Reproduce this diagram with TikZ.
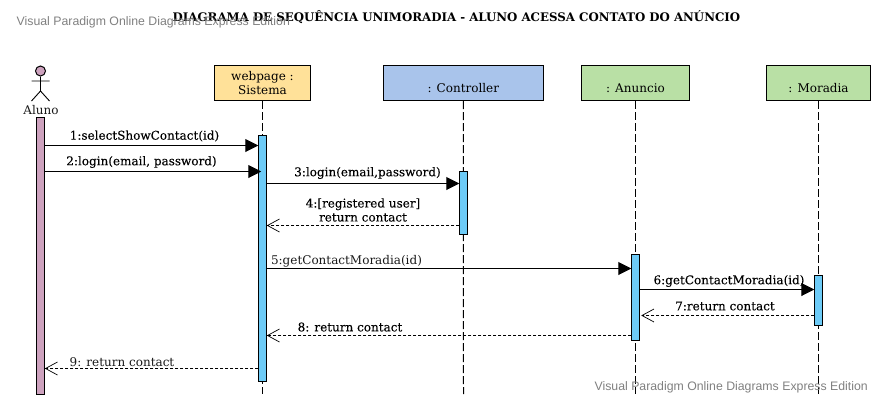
\documentclass[tikz,border=0pt]{standalone}
\usepackage{fontspec}
\setmainfont{DejaVu Serif}
\newfontfamily\wmfont{Liberation Sans}
\newfontfamily\heavyfont[FakeBold=0.12]{DejaVu Serif}
\usetikzlibrary{arrows.meta}
\definecolor{cyel}{HTML}{FFE199}
\definecolor{cblu}{HTML}{A9C4EB}
\definecolor{cgrn}{HTML}{B9E0A5}
\definecolor{cbar}{HTML}{6DCBF7}
\definecolor{cact}{HTML}{CDA2BE}
\newcommand{\lowered}[1]{\rule{0pt}{19pt}#1}
\tikzset{
  x=1pt,y=-1pt,
  lab/.style={font=\fontsize{12}{14}\selectfont,inner sep=0pt,align=center,text=black!90},
  heavylab/.style={lab,font=\heavyfont\fontsize{12}{14}\selectfont,text=black},
  objbox/.style={draw=black,line width=1pt,minimum height=35pt,inner sep=0pt,align=center,font=\fontsize{12}{13.5}\selectfont},
  actbar/.style={draw=black,line width=1pt,minimum width=7.5pt,inner sep=0pt,fill=cbar},
  life/.style={line width=1pt,dash pattern=on 8pt off 3pt},
  call/.style={line width=1pt,-{Triangle[length=13pt,width=13pt,fill=black]}},
  reply/.style={line width=0.8pt,dash pattern=on 3pt off 2pt,-{Straight Barb[length=12pt,width=13pt,line width=0.7pt]}},
  wm/.style={font=\wmfont\fontsize{12.3}{14}\selectfont,text=black!50,inner sep=0pt}
}
\begin{document}
\begin{tikzpicture}
\useasboundingbox (0,0) rectangle (883,407);
% boxes
\node[objbox,fill=cyel,minimum width=96pt] (web) at (262.5,83) {webpage :\\Sistema};
\node[objbox,fill=cblu,minimum width=160pt] (ctl) at (463.3,83) {\lowered{: Controller}};
\node[objbox,fill=cgrn,minimum width=108pt] (anu) at (635.5,83) {\lowered{: Anuncio}};
\node[objbox,fill=cgrn,minimum width=104pt] (mor) at (818.5,83) {\lowered{: Moradia}};
% lifeline ends
\coordinate (webend) at (262.5,394);
\coordinate (ctlend) at (463.5,394);
\coordinate (anuend) at (635.5,394);
\coordinate (morend) at (818.5,394);
\draw[life] (web.south) -- (webend);
\draw[life] (ctl.south) -- (ctlend);
\draw[life] (anu.south) -- (anuend);
\draw[life] (mor.south) -- (morend);
% actor
\node[circle,draw=black,line width=1pt,fill=cact,minimum size=10pt,inner sep=0pt] (head) at (40.5,71) {};
\coordinate (hip) at (40.5,91);
\coordinate (armL) at (31.5,81);
\coordinate (armR) at (49.5,81);
\coordinate (legL) at (31.5,101);
\coordinate (legR) at (49.5,101);
\draw[line width=0.9pt] (head.south) -- (hip) (armL) -- (armR) (legL) -- (hip) -- (legR);
\node[lab] (alu) at (41,110) {Aluno};
% activation bars
\node[actbar,fill=cact,minimum height=276.5pt] (b0) at (40.5,255.75) {};
\node[actbar,minimum height=246pt] (b1) at (262.5,258.5) {};
\node[actbar,minimum height=63pt] (b2) at (463.5,203) {};
\node[actbar,minimum height=86pt] (b3) at (635.5,297.5) {};
\node[actbar,minimum height=50pt] (b4) at (818.5,300.5) {};
% messages
\draw[call] (b0.east |- 0,145.5) -- (b1.west |- 0,145.5);
\draw[call] (b0.east |- 0,171.5) -- ([xshift=3pt]b1.west |- 0,171.5);
\draw[call] ([xshift=-1pt]b1.east |- 0,183.5) -- (b2.west |- 0,183.5);
\draw[reply] (b2.west |- 0,225.5) -- (b1.east |- 0,225.5);
\draw[call] ([xshift=-1pt]b1.east |- 0,268.5) -- (b3.west |- 0,268.5);
\draw[call] (b3.east |- 0,289.5) -- (b4.west |- 0,289.5);
\draw[reply] (b4.west |- 0,315.5) -- ([xshift=1.5pt]b3.east |- 0,315.5);
\draw[reply] (b3.west |- 0,335.5) -- (b1.east |- 0,335.5);
\draw[reply] (b1.west |- 0,368.5) -- (b0.east |- 0,368.5);
% labels
\node[heavylab] (m1) at (144.5,136) {1:selectShowContact(id)};
\node[heavylab] (m2) at (141.5,162) {2:login(email, password)};
\node[heavylab] (m3) at (367.5,173) {3:login(email,password)};
\node[heavylab] (m4) at (363,210) {4:[registered user]\\return contact};
\node[lab] (m5) at (346.5,261) {5:getContactMoradia(id)};
\node[heavylab] (m6) at (729,281) {6:getContactMoradia(id)};
\node[heavylab] (m7) at (725,306) {7:return contact};
\node[heavylab] (m8) at (350,327) {8: return contact};
\node[lab] (m9) at (122,362) {9: return contact};
% title and watermarks
\node[font=\bfseries\fontsize{11.8}{14}\selectfont,inner sep=0pt] (title) at (456.5,17.5) {DIAGRAMA DE SEQUÊNCIA UNIMORADIA - ALUNO ACESSA CONTATO DO ANÚNCIO};
\node[wm,anchor=west] (w1) at (16.5,22) {Visual Paradigm Online Diagrams Express Edition};
\node[wm,anchor=east] (w2) at (868,387) {Visual Paradigm Online Diagrams Express Edition};
\end{tikzpicture}
\end{document}
